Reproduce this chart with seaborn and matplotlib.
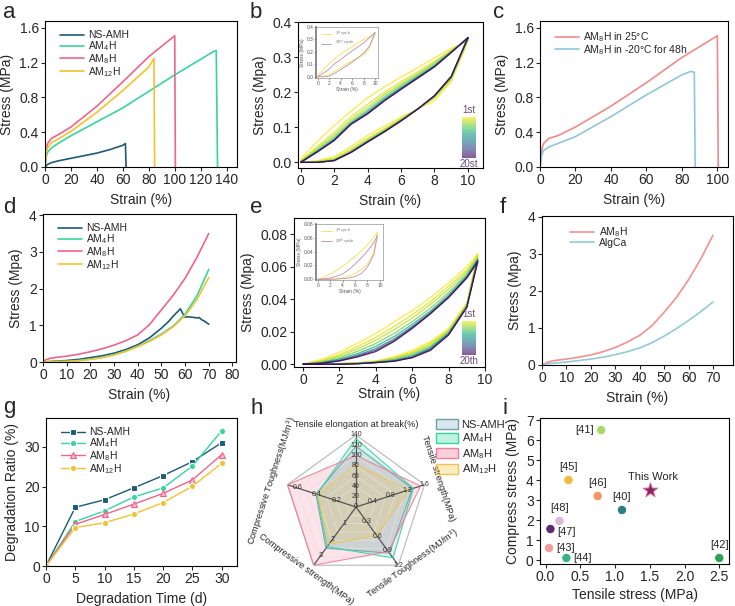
import numpy as np
import matplotlib
matplotlib.use("Agg")
import matplotlib.pyplot as plt
import seaborn as sns
from matplotlib.patches import Patch
from matplotlib.colors import ListedColormap, Normalize
from matplotlib.ticker import FormatStrFormatter

# ---------------- data ----------------
c_ns, c_4, c_8, c_12 = "#1d5a78", "#33d69f", "#f0638a", "#f5c12e"
names = ["NS-AMH", "AM$_4$H", "AM$_8$H", "AM$_{12}$H"]

# (a) tensile
a_ns_x = [0, 2, 5, 10, 20, 30, 40, 50, 60, 62, 62.5]
a_ns_y = [0, 0.03, 0.05, 0.07, 0.10, 0.13, 0.16, 0.20, 0.25, 0.27, 0]
a_4_x = [0, 1, 2, 5, 10, 20, 40, 60, 80, 100, 120, 130, 132, 133]
a_4_y = [0, 0.12, 0.17, 0.22, 0.27, 0.36, 0.52, 0.68, 0.87, 1.06, 1.24, 1.33, 1.34, 0]
a_8_x = [0, 1, 2, 5, 10, 20, 40, 60, 80, 100, 100.5]
a_8_y = [0, 0.20, 0.27, 0.33, 0.37, 0.46, 0.70, 0.98, 1.27, 1.51, 0]
a_12_x = [0, 1, 2, 5, 10, 20, 40, 60, 80, 84, 84.5]
a_12_y = [0, 0.17, 0.22, 0.28, 0.32, 0.41, 0.63, 0.88, 1.15, 1.25, 0]

# (b) cyclic tensile, strain 0..10
b_x = [0, 1, 2, 3, 4, 5, 6, 7, 8, 9, 10]
b_cycles = [1, 2, 3, 5, 8, 12, 16, 20]
b_load = [
    [0.01, 0.06, 0.105, 0.145, 0.184, 0.215, 0.243, 0.27, 0.298, 0.325, 0.345],
    [0.005, 0.045, 0.085, 0.13, 0.165, 0.2, 0.23, 0.258, 0.288, 0.32, 0.348],
    [0.003, 0.04, 0.078, 0.122, 0.157, 0.193, 0.224, 0.253, 0.284, 0.318, 0.35],
    [0.002, 0.036, 0.072, 0.116, 0.15, 0.187, 0.219, 0.249, 0.28, 0.316, 0.352],
    [0.001, 0.033, 0.067, 0.112, 0.145, 0.182, 0.214, 0.245, 0.276, 0.315, 0.354],
    [0, 0.031, 0.064, 0.11, 0.141, 0.178, 0.211, 0.242, 0.274, 0.314, 0.355],
    [0, 0.03, 0.063, 0.109, 0.139, 0.176, 0.209, 0.241, 0.273, 0.313, 0.355],
    [0, 0.03, 0.062, 0.108, 0.138, 0.175, 0.208, 0.24, 0.272, 0.313, 0.356],
]
b_unload = [
    [0, 0.005, 0.016, 0.045, 0.077, 0.103, 0.129, 0.152, 0.176, 0.23, 0.345],
    [0, 0.003, 0.012, 0.038, 0.069, 0.096, 0.125, 0.153, 0.183, 0.235, 0.348],
    [0, 0.002, 0.009, 0.034, 0.065, 0.093, 0.123, 0.153, 0.186, 0.238, 0.35],
    [0, 0.001, 0.007, 0.031, 0.062, 0.09, 0.121, 0.152, 0.188, 0.241, 0.352],
    [0, 0, 0.006, 0.03, 0.06, 0.089, 0.12, 0.152, 0.189, 0.243, 0.354],
    [0, 0, 0.005, 0.029, 0.059, 0.088, 0.119, 0.152, 0.19, 0.244, 0.355],
    [0, 0, 0.005, 0.028, 0.058, 0.087, 0.118, 0.152, 0.19, 0.245, 0.355],
    [0, 0, 0.005, 0.028, 0.058, 0.087, 0.118, 0.152, 0.19, 0.245, 0.356],
]

# (c) low temperature
c_rt_x = [0, 1, 2, 5, 10, 20, 40, 60, 80, 100, 100.5]
c_rt_y = [0, 0.20, 0.27, 0.33, 0.36, 0.46, 0.70, 0.97, 1.26, 1.51, 0]
c_lt_x = [0, 1, 2, 5, 10, 20, 40, 60, 80, 85, 87, 87.5]
c_lt_y = [0, 0.14, 0.19, 0.23, 0.27, 0.35, 0.58, 0.83, 1.06, 1.10, 1.09, 0]

# (d) compression
d_x = [0, 3, 5, 10, 15, 20, 25, 30, 35, 40, 45, 50, 55, 60, 65, 70]
d_8 = [0.03, 0.10, 0.12, 0.16, 0.21, 0.28, 0.36, 0.46, 0.58, 0.74, 1.02, 1.42, 1.82, 2.28, 2.85, 3.5]
d_4 = [0, 0.01, 0.01, 0.02, 0.04, 0.08, 0.13, 0.20, 0.30, 0.43, 0.58, 0.76, 0.98, 1.30, 1.80, 2.52]
d_12 = [0, 0.005, 0.008, 0.015, 0.035, 0.07, 0.12, 0.19, 0.29, 0.42, 0.56, 0.74, 0.96, 1.26, 1.70, 2.30]
d_ns_x = [0, 5, 10, 15, 20, 25, 30, 35, 40, 45, 50, 53, 55, 57, 58, 59, 60, 61,
          63, 65, 66, 67, 68, 70]
d_ns_y = [0, 0.02, 0.04, 0.07, 0.12, 0.17, 0.24, 0.34, 0.47, 0.66, 0.92, 1.10,
          1.25, 1.38, 1.45, 1.32, 1.22, 1.23, 1.22, 1.20, 1.21, 1.15, 1.12, 1.03]

# (e) cyclic compression
e_x = [0, 1, 2, 3, 4, 5, 6, 7, 8, 9, 9.6]
e_cycles = [1, 2, 3, 5, 8, 12, 16, 20]
e_load = [
    [0, 0.003, 0.0074, 0.013, 0.019, 0.026, 0.033, 0.041, 0.050, 0.060, 0.068],
    [0, 0.0022, 0.0058, 0.011, 0.0165, 0.0232, 0.0305, 0.0385, 0.048, 0.058, 0.067],
    [0, 0.0018, 0.005, 0.0095, 0.0148, 0.0212, 0.0285, 0.0368, 0.0462, 0.0568, 0.0662],
    [0, 0.0013, 0.004, 0.008, 0.0128, 0.019, 0.0262, 0.0345, 0.0442, 0.0555, 0.0652],
    [0, 0.001, 0.0032, 0.0066, 0.011, 0.017, 0.0245, 0.0328, 0.0428, 0.0545, 0.0645],
    [0, 0.0008, 0.0026, 0.0056, 0.0096, 0.0155, 0.0232, 0.0318, 0.0418, 0.0538, 0.064],
    [0, 0.0006, 0.0022, 0.005, 0.0086, 0.0146, 0.0225, 0.0314, 0.0413, 0.0534, 0.0635],
    [0, 0.0005, 0.002, 0.0045, 0.0078, 0.014, 0.022, 0.031, 0.041, 0.053, 0.063],
]
e_unload = [
    [0, 0, 0.0005, 0.001, 0.002, 0.0045, 0.0085, 0.014, 0.022, 0.038, 0.068],
    [0, 0, 0.0004, 0.0009, 0.0018, 0.004, 0.0075, 0.013, 0.021, 0.037, 0.067],
    [0, 0, 0.0003, 0.0008, 0.0016, 0.0035, 0.0068, 0.012, 0.0205, 0.0365, 0.0662],
    [0, 0, 0.0002, 0.0006, 0.0014, 0.003, 0.006, 0.011, 0.0198, 0.036, 0.0652],
    [0, 0, 0.0001, 0.0005, 0.0012, 0.0025, 0.0052, 0.0102, 0.0192, 0.0356, 0.0645],
    [0, 0, 0, 0.0004, 0.0011, 0.0021, 0.0046, 0.0095, 0.0187, 0.0353, 0.064],
    [0, 0, 0, 0.0003, 0.001, 0.0019, 0.0042, 0.009, 0.0183, 0.0351, 0.0635],
    [0, 0, 0, 0.0003, 0.001, 0.0018, 0.004, 0.0085, 0.018, 0.035, 0.063],
]

# (f) AM8H vs AlgCa
f_x = [0, 2, 5, 10, 15, 20, 25, 30, 35, 40, 45, 50, 55, 60, 65, 70]
f_am8 = [0, 0.07, 0.12, 0.16, 0.21, 0.27, 0.36, 0.47, 0.62, 0.80, 1.06, 1.42, 1.82, 2.30, 2.86, 3.5]
f_alg = [0, 0.03, 0.05, 0.08, 0.12, 0.16, 0.21, 0.28, 0.36, 0.46, 0.60, 0.78, 0.98, 1.20, 1.44, 1.70]

# (g) degradation
g_days = [0, 5, 10, 15, 20, 25, 30]
g_ns = [0, 14.8, 16.7, 19.7, 22.8, 26.3, 31.1]
g_4 = [0, 11.2, 13.9, 17.4, 19.7, 25.2, 34.1]
g_8 = [0, 10.5, 13.0, 15.6, 18.3, 21.7, 28.1]
g_12 = [0, 9.7, 10.9, 13.1, 16.0, 20.1, 25.9]

# (h) radar
radar_axes = ["Tensile elongation at break(%)", "Tensile strength(MPa)",
              "Tensile Toughness(MJ/m$^3$)", "Compressive strength(MPa)",
              "Compressive Toughness(MJ/m$^3$)"]
radar_max = [140, 1.6, 1.2, 3.6, 0.7]
radar_ticks = [[0, 20, 40, 60, 80, 100, 120, 140], [0.4, 0.8, 1.2, 1.6],
               [0.3, 0.6, 0.9, 1.2], [1, 2, 3], [0.2, 0.4, 0.6]]
radar_ns = [118, 1.32, 0.95, 2.55, 0.41]
radar_4 = [133, 1.34, 1.05, 2.45, 0.40]
radar_8 = [100, 1.51, 0.92, 3.6, 0.70]
radar_12 = [83, 1.22, 0.59, 2.30, 0.39]

# (i) comparison
i_refs = ["[41]", "[45]", "[46]", "[40]", "[48]", "[47]", "[43]", "[44]", "[42]"]
i_tensile = [0.80, 0.33, 0.75, 1.10, 0.20, 0.07, 0.05, 0.30, 2.50]
i_compress = [6.5, 4.0, 3.2, 2.5, 1.95, 1.55, 0.60, 0.10, 0.10]
i_colors = ["#a6d96a", "#f5b942", "#f3975c", "#2b7f7f", "#d9b8dc",
            "#5b2c6f", "#f29c9c", "#3bb38a", "#2ea05a"]
this_work = (1.5, 3.5)

# ---------------- style ----------------
sns.set_style("ticks")
plt.rcParams['font.family'] = ['Liberation Sans', 'DejaVu Sans']
plt.rcParams['mathtext.fontset'] = 'custom'
plt.rcParams['mathtext.rm'] = 'Liberation Sans'
plt.rcParams['mathtext.it'] = 'Liberation Sans:italic'
plt.rcParams['axes.linewidth'] = 0.8
plt.rcParams['axes.edgecolor'] = 'black'

W, H = 735, 606
fig = plt.figure(figsize=(W / 100, H / 100), dpi=100)


def box(l, t, r, b):
    return [l / W, 1 - b / H, (r - l) / W, (b - t) / H]


def frame(ax, fs=10):
    for s in ax.spines.values():
        s.set_visible(True)
        s.set_linewidth(0.8)
    ax.tick_params(labelsize=fs, length=3, width=0.8, direction='out', pad=1.5)


def letter(x, y, s):
    fig.text(x / W, 1 - y / H, s, fontsize=16, ha='left', va='center')


def line(ax, x, y, color, label=None, lw=1.2):
    sns.lineplot(x=x, y=y, ax=ax, color=color, lw=lw, label=label,
                 sort=False, estimator=None)


def small_leg(ax, **kw):
    return ax.legend(frameon=False, fontsize=7.5, handlelength=2.3,
                     labelspacing=-0.1, handletextpad=0.4, **kw)


cyc_cmap = plt.get_cmap("viridis_r")

# ---- a ----
ax = fig.add_axes(box(45, 21, 237, 167))
line(ax, a_ns_x, a_ns_y, c_ns, names[0])
line(ax, a_4_x, a_4_y, c_4, names[1])
line(ax, a_8_x, a_8_y, c_8, names[2])
line(ax, a_12_x, a_12_y, c_12, names[3])
ax.set_xlim(0, 148)
ax.set_ylim(0, 1.68)
ax.set_xticks(range(0, 141, 20))
ax.set_yticks([0, 0.4, 0.8, 1.2, 1.6])
ax.yaxis.set_major_formatter(FormatStrFormatter('%.1f'))
ax.set_xlabel("Strain (%)", fontsize=10)
ax.set_ylabel("Stress (MPa)", fontsize=10)
frame(ax)
small_leg(ax, loc='upper left', bbox_to_anchor=(0.03, 1.0))
letter(3, 12, "a")


# ---- cyclic helper ----
def cyclic(ax, x, cycles, loads, unloads):
    for cyc, ld, ul in zip(cycles, loads, unloads):
        col = cyc_cmap((cyc - 1) / 19)
        line(ax, x, ld, col, lw=0.9)
        line(ax, x, ul, col, lw=0.9)
    for ln in ax.lines:
        ln.set_alpha(0.85)


def grad_legend(rect, top, bottom):
    cax = fig.add_axes(box(*rect))
    base = cyc_cmap(np.linspace(0, 1, 256))
    base[:, :3] = base[:, :3] * 0.65 + 0.35
    sm = plt.cm.ScalarMappable(norm=Normalize(1, 20), cmap=ListedColormap(base))
    cb = fig.colorbar(sm, cax=cax)
    cb.outline.set_visible(False)
    cb.set_ticks([])
    cax.invert_yaxis()
    fig.text((rect[0] + rect[2]) / 2 / W, 1 - (rect[1] - 7) / H, top,
             fontsize=7, ha='center', va='center', color='#6b4b78')
    fig.text((rect[0] + rect[2]) / 2 / W, 1 - (rect[3] + 6) / H, bottom,
             fontsize=7, ha='center', va='center', color='#6b4b78')


def inset(rect, x, ld1, ul1, ld20, ul20, ylim, yticks, yfmt, leg20):
    ia = fig.add_axes(box(*rect))
    line(ia, x, ld1, "#f2e050", "1$^{st}$ cycle", lw=0.6)
    line(ia, x, ul1, "#f2e050", lw=0.6)
    line(ia, x, ld20, "#c48aaa", leg20, lw=0.6)
    line(ia, x, ul20, "#c48aaa", lw=0.6)
    ia.set_xlim(-0.3, 10.5)
    ia.set_ylim(*ylim)
    ia.set_xticks([0, 2, 4, 6, 8, 10])
    ia.set_yticks(yticks)
    ia.yaxis.set_major_formatter(FormatStrFormatter(yfmt))
    for s in ia.spines.values():
        s.set_linewidth(0.4)
        s.set_color('#777777')
    ia.spines['left'].set_linewidth(1.2)
    ia.tick_params(labelsize=3.5, length=1.2, width=0.4, pad=0.8, colors='#555555')
    ia.set_xlabel("Strain (%)", fontsize=3.5, labelpad=0.8, color='#555555')
    ia.set_ylabel("Stress (MPa)", fontsize=3.5, labelpad=0.8, color='#555555')
    ia.legend(frameon=False, fontsize=3, handlelength=2.5, labelspacing=0.1,
              loc='upper left', bbox_to_anchor=(0.02, 1.02), labelcolor='#777777')


# ---- b ----
ax = fig.add_axes(box(298, 22, 483, 168))
cyclic(ax, b_x, b_cycles, b_load, b_unload)
ax.set_xlim(-0.16, 10.9)
ax.set_ylim(-0.016, 0.398)
ax.set_xticks([0, 2, 4, 6, 8, 10])
ax.set_yticks([0, 0.1, 0.2, 0.3, 0.4])
ax.yaxis.set_major_formatter(FormatStrFormatter('%.1f'))
ax.set_xlabel("Strain (%)", fontsize=10)
ax.set_ylabel("Stress (Mpa)", fontsize=10)
frame(ax)
grad_legend((462, 117, 476, 158), "1st", "20st")
inset((316, 27, 378, 78), b_x, b_load[0], b_unload[0], b_load[-1], b_unload[-1],
      (-0.01, 0.4), [0, 0.1, 0.2, 0.3, 0.4], '%.1f', "20$^{st}$ cycle")
letter(250, 12, "b")

# ---- c ----
ax = fig.add_axes(box(540, 21, 728, 167))
line(ax, c_rt_x, c_rt_y, "#f28a8a", "AM$_8$H in 25°C")
line(ax, c_lt_x, c_lt_y, "#8fc6de", "AM$_8$H in -20°C for 48h")
ax.set_xlim(0, 106)
ax.set_ylim(0, 1.68)
ax.set_xticks(range(0, 101, 20))
ax.set_yticks([0, 0.4, 0.8, 1.2, 1.6])
ax.yaxis.set_major_formatter(FormatStrFormatter('%.1f'))
ax.set_xlabel("Strain (%)", fontsize=10)
ax.set_ylabel("Stress (MPa)", fontsize=10)
frame(ax)
small_leg(ax, loc='upper left', bbox_to_anchor=(0.03, 1.0))
letter(493, 12, "c")

# ---- d ----
ax = fig.add_axes(box(43, 214, 236, 362))
line(ax, d_ns_x, d_ns_y, c_ns, names[0])
line(ax, d_x, d_4, c_4, names[1])
line(ax, d_x, d_8, c_8, names[2])
line(ax, d_x, d_12, c_12, names[3])
ax.set_xlim(0, 81.5)
ax.set_ylim(0, 4.03)
ax.set_xticks(range(0, 81, 10))
ax.set_yticks([0, 1, 2, 3, 4])
ax.set_xlabel("Strain (%)", fontsize=10)
ax.set_ylabel("Stress (Mpa)", fontsize=10)
frame(ax)
small_leg(ax, loc='upper left', bbox_to_anchor=(0.03, 1.0))
letter(3, 207, "d")

# ---- e ----
ax = fig.add_axes(box(294, 218, 485, 367))
cyclic(ax, e_x, e_cycles, e_load, e_unload)
ax.set_xlim(-0.5, 10.0)
ax.set_ylim(-0.0017, 0.09)
ax.set_xticks([0, 2, 4, 6, 8, 10])
ax.set_yticks([0, 0.02, 0.04, 0.06, 0.08])
ax.yaxis.set_major_formatter(FormatStrFormatter('%.2f'))
ax.set_xlabel("Strain (%)", fontsize=10, labelpad=0)
ax.set_ylabel("Stress (Mpa)", fontsize=10)
frame(ax)
grad_legend((462, 321, 476, 355), "1st", "20th")
inset((316, 224, 383, 280), e_x, e_load[0], e_unload[0], e_load[-1], e_unload[-1],
      (-0.001, 0.08), [0, 0.02, 0.04, 0.06, 0.08], '%.2f', "20$^{th}$ cycle")
letter(250, 207, "e")

# ---- f ----
ax = fig.add_axes(box(542, 216, 733, 365))
line(ax, f_x, f_am8, "#f29090", "AM$_8$H")
line(ax, f_x, f_alg, "#90ccd8", "AlgCa")
ax.set_xlim(0, 78.2)
ax.set_ylim(0, 4.02)
ax.set_xticks(range(0, 71, 10))
ax.set_yticks([0, 1, 2, 3, 4])
ax.set_xlabel("Strain (%)", fontsize=10)
ax.set_ylabel("Stress (Mpa)", fontsize=10)
frame(ax)
small_leg(ax, loc='upper left', bbox_to_anchor=(0.1, 1.0))
letter(500, 207, "f")

# ---- g ----
ax = fig.add_axes(box(46, 418, 237, 566))
mk = dict(ms=4.5, lw=1.0, mew=0.8)
sns.lineplot(x=g_days, y=g_ns, ax=ax, color=c_ns, marker='s', label=names[0], **mk)
sns.lineplot(x=g_days, y=g_4, ax=ax, color=c_4, marker='o', label=names[1], **mk)
sns.lineplot(x=g_days, y=g_8, ax=ax, color=c_8, marker='^', label=names[2],
             markerfacecolor='#f7b8c8', markeredgecolor=c_8, **mk)
sns.lineplot(x=g_days, y=g_12, ax=ax, color=c_12, marker='o', label=names[3], **mk)
ax.set_xlim(0, 32.6)
ax.set_ylim(0, 37.3)
ax.set_xticks(g_days)
ax.set_yticks([0, 10, 20, 30])
ax.set_xlabel("Degradation Time (d)", fontsize=10)
ax.set_ylabel("Degradation Ratio (%)", fontsize=10)
frame(ax)
small_leg(ax, loc='upper left', bbox_to_anchor=(0.03, 1.0))
letter(3, 408, "g")

# ---- h radar ----
ax = fig.add_axes(box(284, 435, 428, 579), projection='polar')
ax.set_theta_offset(np.pi / 2)
ax.set_theta_direction(-1)
ang = np.deg2rad([0, 72, 144, 216, 288])
ang_c = np.append(ang, ang[0])
for lev in [1 / 7, 2 / 7, 3 / 7, 4 / 7, 5 / 7, 6 / 7]:
    ax.plot(ang_c, [lev] * 6, color='#e2e2e2', lw=0.5)
ax.plot(ang_c, [1] * 6, color='#bdbdbd', lw=0.9)
for a_ in ang:
    ax.plot([a_, a_], [0, 1], color='#555555', lw=0.9)
fills = [(radar_ns, "#7fb0bd", "#6ea0b0"), (radar_4, c_4, c_4),
         (radar_8, c_8, "#ef7f9c"), (radar_12, c_12, "#eec45a")]
for vals, fc, ec in fills:
    r = [v / m for v, m in zip(vals, radar_max)]
    r.append(r[0])
    ax.fill(ang_c, r, color=fc, alpha=0.18, lw=0)
    ax.plot(ang_c, r, color=ec, lw=0.8, alpha=0.9)
for a_, ticks, m in zip(ang, radar_ticks, radar_max):
    for t in ticks:
        ax.text(a_, t / m, f"{t:g}", fontsize=5, ha='center', va='center',
                color='#333333')
# axis titles follow the outer ring, a bit away from the vertices
lab_ang = np.deg2rad([0, 70.5, 135, 219, 287])
rots = [0, -72, 36, -36, 72]
lab_r = [1.15, 1.21, 1.12, 1.11, 1.22]
for a_, lab, rot, rr in zip(lab_ang, radar_axes, rots, lab_r):
    ax.text(a_, rr, lab, fontsize=6.6, rotation=rot, ha='center', va='center',
            rotation_mode='anchor', clip_on=False)
ax.set_ylim(0, 1)
ax.set_xticks([])
ax.set_yticks([])
ax.grid(False)
ax.spines['polar'].set_visible(False)
ax.set_facecolor('none')
handles = [Patch(facecolor=matplotlib.colors.to_rgba(fc, 0.3), edgecolor=ec, lw=1.0)
           for (vals, fc, ec) in fills]
fig.legend(handles, names, loc='upper left', bbox_to_anchor=(436 / W, 1 - 419 / H),
           frameon=False, fontsize=8, handlelength=2.0, handleheight=1.0,
           labelspacing=0.15, handletextpad=0.3, borderaxespad=0, borderpad=0)
letter(250, 408, "h")

# ---- i ----
ax = fig.add_axes(box(540, 418, 729, 564))
sns.scatterplot(x=i_tensile, y=i_compress, hue=i_refs,
                palette=dict(zip(i_refs, i_colors)), legend=False, s=45,
                edgecolor='white', linewidth=0.6, ax=ax, zorder=3)
sns.scatterplot(x=[this_work[0]], y=[this_work[1]], marker='*', s=120,
                color='#7b2a5e', edgecolor='#e05a8a', linewidth=0.7, ax=ax, zorder=4)
offs = {"[41]": (-5, 0, 'right', 'center'), "[45]": (0, 6, 'center', 'bottom'),
        "[46]": (0, 6, 'center', 'bottom'), "[40]": (0, 6, 'center', 'bottom'),
        "[48]": (0, 6, 'center', 'bottom'), "[47]": (5, -2, 'left', 'center'),
        "[43]": (5, 0, 'left', 'center'), "[44]": (5, 0, 'left', 'center'),
        "[42]": (0, 6, 'center', 'bottom')}
for ref, x_, y_ in zip(i_refs, i_tensile, i_compress):
    dx, dy, ha, va = offs[ref]
    ax.annotate(ref, (x_, y_), xytext=(dx, dy), textcoords='offset points',
                fontsize=8, ha=ha, va=va)
ax.annotate("This Work", this_work, xytext=(2, 6), textcoords='offset points',
            fontsize=8, ha='center', va='bottom')
ax.set_xlim(-0.08, 2.64)
ax.set_ylim(-0.2, 7.1)
ax.set_xticks([0, 0.5, 1.0, 1.5, 2.0, 2.5])
ax.set_yticks(range(0, 8))
ax.xaxis.set_major_formatter(FormatStrFormatter('%.1f'))
ax.set_xlabel("Tensile stress (MPa)", fontsize=10, labelpad=3)
ax.set_ylabel("Compress stress (MPa)", fontsize=10)
frame(ax)
letter(502, 408, "i")

fig.savefig("out.png", dpi=100)
